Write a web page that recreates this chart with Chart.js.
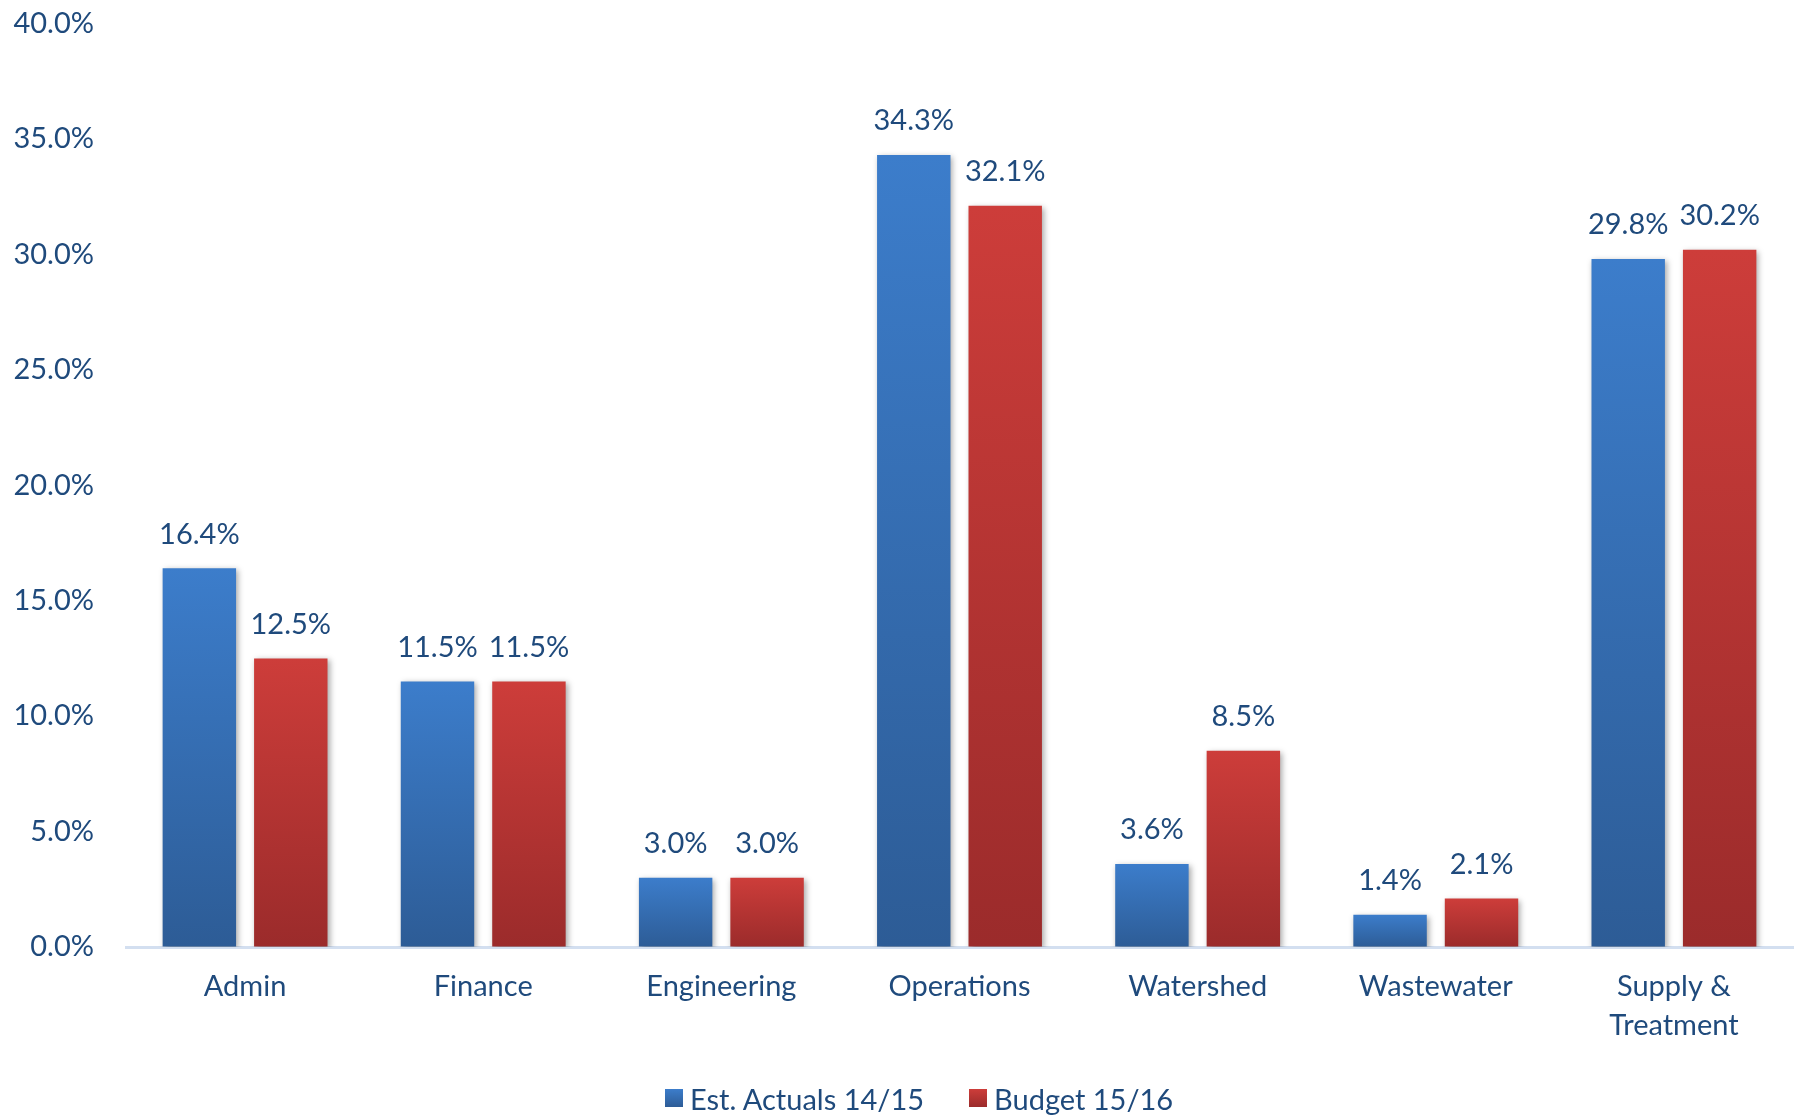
<!DOCTYPE html>
<html>
<head>
<meta charset="utf-8">
<script src="https://cdn.jsdelivr.net/npm/chart.js@4"></script>
<style>
  html, body { margin: 0; padding: 0; background: #fff; }
  #wrap { width: 1797px; height: 1115px; position: relative; }
  #legenda {
    position: absolute; left: 665px; top: 1079px; height: 38px;
    display: flex; align-items: center;
    font-family: Lato; font-size: 29px; color: #1f4a7c; white-space: nowrap;
  }
  #legenda .item { display: flex; align-items: center; margin-right: 45px; }
  #legenda .caixa { width: 18px; height: 18px; margin-right: 7px; }
</style>
</head>
<body>
<div id="wrap">
  <canvas id="grafico"></canvas>
  <div id="legenda"></div>
</div>
<script>
// ---- DATA ----
const categorias = ["Admin", "Finance", "Engineering", "Operations", "Watershed", "Wastewater", ["Supply &", "Treatment"]];
const estActuals = [16.4, 11.5, 3.0, 34.3, 3.6, 1.4, 29.8];
const budget = [12.5, 11.5, 3.0, 32.1, 8.5, 2.1, 30.2];
const yTicks = [0, 5, 10, 15, 20, 25, 30, 35, 40];

const COR_TEXTO = "#1f4a7c";
const FONTE = "Lato";
const TAM = 29;

// gradient per bar, top -> bottom
function gradiente(topo, fundo, solido) {
  return function (c) {
    const ch = c.chart;
    if (c.type !== "data" || !ch.chartArea) return solido;
    const y = ch.scales.y;
    const t = y.getPixelForValue(c.raw);
    const b = y.getPixelForValue(0);
    const g = ch.ctx.createLinearGradient(0, t, 0, b);
    g.addColorStop(0, topo);
    g.addColorStop(1, fundo);
    return g;
  };
}

// shadow under bars
const sombra = {
  id: "sombra",
  beforeDatasetsDraw(chart) {
    const ctx = chart.ctx;
    ctx.save();
    ctx.shadowColor = "rgba(0,0,0,0.35)";
    ctx.shadowBlur = 6;
    ctx.shadowOffsetX = 2;
    ctx.shadowOffsetY = 2;
  },
  afterDatasetsDraw(chart) {
    chart.ctx.restore();
  }
};

// value labels above bars
const rotulos = {
  id: "rotulos",
  afterDatasetsDraw(chart) {
    const ctx = chart.ctx;
    ctx.save();
    ctx.shadowColor = "transparent";
    ctx.fillStyle = COR_TEXTO;
    ctx.font = TAM + "px " + FONTE;
    ctx.textAlign = "center";
    ctx.textBaseline = "middle";
    chart.data.datasets.forEach((ds, i) => {
      chart.getDatasetMeta(i).data.forEach((el, j) => {
        ctx.fillText(ds.data[j].toFixed(1) + "%", el.x, el.y - 34);
      });
    });
    ctx.restore();
  }
};

const coresLegenda = [["#3c7dcb", "#2d5c96"], ["#cd3d3a", "#9b2b2b"]];

const grafico = new Chart(document.getElementById("grafico"), {
  type: "bar",
  data: {
    labels: categorias,
    datasets: [{
      label: "Est. Actuals 14/15",
      data: estActuals,
      backgroundColor: gradiente("#3c7dcb", "#2d5c96", "#3570b8"),
      categoryPercentage: 0.768,
      barPercentage: 0.803
    }, {
      label: "Budget 15/16",
      data: budget,
      backgroundColor: gradiente("#cd3d3a", "#9b2b2b", "#bb3634"),
      categoryPercentage: 0.768,
      barPercentage: 0.803
    }]
  },
  options: {
    responsive: true,
    maintainAspectRatio: false,
    animation: false,
    layout: { padding: { top: 0, right: 4, left: 0, bottom: 0 } },
    plugins: {
      legend: { display: false },
      tooltip: { enabled: false }
    },
    scales: {
      x: {
        afterFit(s) { s.height = 168; },
        grid: { display: false, drawTicks: false },
        border: { display: true, color: "#d3dff0", width: 3 },
        ticks: {
          color: COR_TEXTO,
          font: { family: FONTE, size: TAM, lineHeight: 1.35 },
          padding: 20,
          maxRotation: 0,
          autoSkip: false
        }
      },
      y: {
        min: 0,
        max: 40,
        afterBuildTicks(s) { s.ticks = yTicks.map(v => ({ value: v })); },
        afterFit(s) { s.width = 126; },
        grid: { display: true, drawOnChartArea: false, drawTicks: true, tickLength: 26, color: "transparent" },
        border: { display: false },
        ticks: {
          color: COR_TEXTO,
          font: { family: FONTE, size: TAM },
          padding: 6,
          callback: v => v.toFixed(1) + "%"
        }
      }
    }
  },
  plugins: [sombra, rotulos]
});

// ---- LEGENDA ----
const legenda = document.getElementById("legenda");
grafico.data.datasets.forEach((ds, i) => {
  const item = document.createElement("div");
  item.className = "item";
  const caixa = document.createElement("span");
  caixa.className = "caixa";
  caixa.style.background = "linear-gradient(" + coresLegenda[i][0] + "," + coresLegenda[i][1] + ")";
  const txt = document.createElement("span");
  txt.textContent = ds.label;
  item.appendChild(caixa);
  item.appendChild(txt);
  legenda.appendChild(item);
});
</script>
</body>
</html>
